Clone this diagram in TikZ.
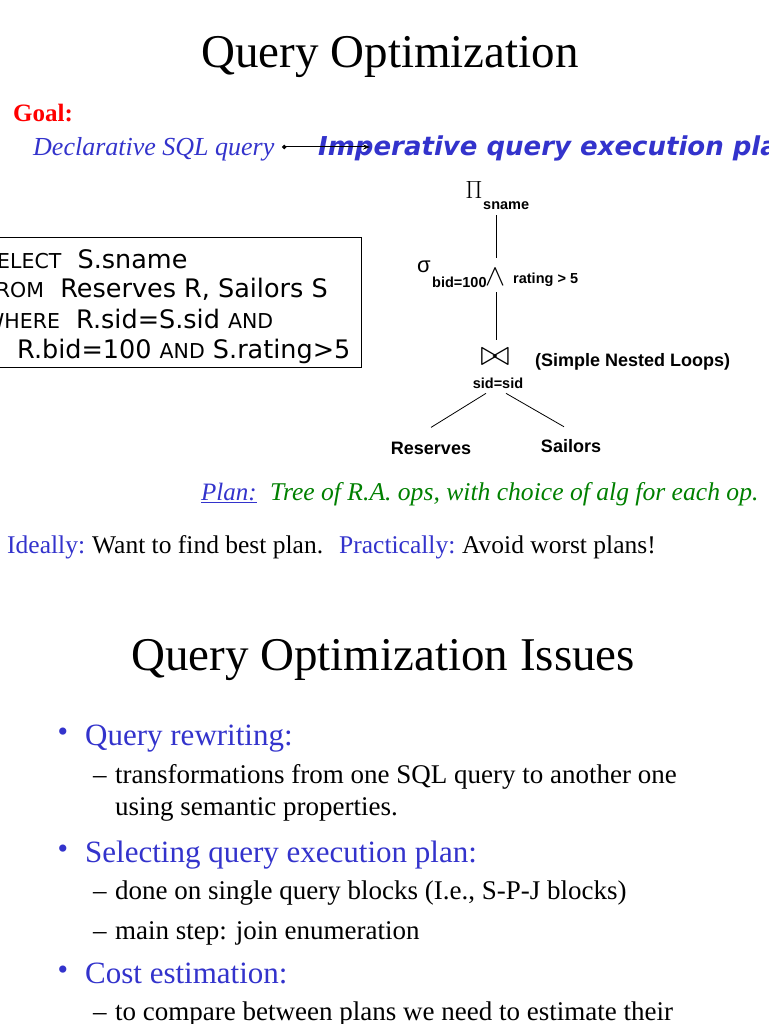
\documentclass[tikz,border=0pt]{standalone}
\usepackage{fontspec}
\usepackage{graphicx}
\setmainfont{Liberation Serif}
\newfontfamily\dejavu{DejaVu Sans}
\newfontfamily\arialfont{Liberation Sans}
\usetikzlibrary{arrows.meta}
\definecolor{slideblue}{RGB}{51,51,204}
\definecolor{plangreen}{RGB}{0,128,0}
\newcommand{\fsz}[1]{\fontsize{#1}{#1}\selectfont}
\newcommand{\kw}[1]{{\fsz{20.5}#1}}

\tikzset{
  txt/.style={anchor=base west, inner sep=0pt},
  slidetitle/.style={anchor=base, inner sep=0pt, font=\fsz{47}},
  sqlline/.style={txt, font=\dejavu\fsz{25.5}},
  treelbl/.style={inner sep=0pt, font=\arialfont\bfseries\fsz{14.5}},
  treeop/.style={inner sep=0pt, font=\fsz{20}},
  treeedge/.style={line width=0.8pt},
  relname/.style={inner sep=0pt, anchor=base, font=\arialfont\bfseries\fsz{18}},
  headitem/.style={txt, text=slideblue, font=\fsz{31}},
  subitem/.style={txt, font=\fsz{27}},
}

\begin{document}
\begin{tikzpicture}[x=1pt,y=-1pt]
\useasboundingbox (0,0) rectangle (768,1024);
\clip (0,0) rectangle (768,1024);
\fill[white] (0,0) rectangle (768,1024);

% first slide
\node[slidetitle] (title) at (390,68) {Query Optimization};
\node[txt, text=red, font=\bfseries\fsz{25}] (goal) at (13,122) {Goal:};
\node[txt, text=slideblue, font=\itshape\fsz{26}] (decl) at (33,156) {Declarative SQL query};
\node[txt, text=slideblue, font=\dejavu\bfseries\itshape\fsz{26}] (imper) at (318,156) {Imperative query execution plan};
\coordinate (goalS) at (282,147);
\coordinate (goalE) at (370,147);
\draw[line width=1pt, {Circle[length=4.5pt]}-{Stealth[length=7pt,width=5pt]}] (goalS) -- (goalE);

% the query
\draw[line width=0.8pt] (-30,237) rectangle (361,367);
\node[sqlline] (sql1) at (-16,268) {\kw{SELECT}\ \ S.sname};
\node[sqlline] (sql2) at (-16,297) {\kw{FROM}\ \ Reserves R, Sailors S};
\node[sqlline] (sql3) at (-16,328) {\kw{WHERE}\ \ R.sid=S.sid \kw{AND}};
\node[sqlline] (sql4) at (17,358) {R.bid=100 \kw{AND} S.rating>5};

% plan tree
\node[treeop, font=\fsz{27}] (proj) at (474,190) {$\Pi$};
\node[treelbl, anchor=base west] (projlbl) at (483,210) {sname};
\node[treeop, font=\arialfont\fsz{22}] (sel) at (424,267) {σ};
\node[treelbl, anchor=base west] (sellbl) at (432,287) {bid=100};
\node[treeop] (andop) at (496,277) {\scalebox{1.45}{$\wedge$}};
\node[treelbl, anchor=base west] (ratlbl) at (513,283) {rating > 5};
\node[treeop] (join) at (495,357) {\scalebox{1.75}{$\bowtie$}};
\node[treelbl, anchor=base west, font=\arialfont\bfseries\fsz{18}] (snl) at (535,366) {(Simple Nested Loops)};
\node[treelbl, anchor=base] (joinlbl) at (498,388) {sid=sid};
\node[relname] (res) at (431,454) {Reserves};
\node[relname] (sail) at (571,452) {Sailors};
\draw[treeedge] (projlbl.south -| andop.center) ++(0,5) -- ([yshift=19pt]andop.center);
\draw[treeedge] ([yshift=-15pt]andop.center) -- ([yshift=17pt]join.center -| andop.center);
\draw[treeedge] ([xshift=-12pt,yshift=-5pt]joinlbl.south) -- ([yshift=14pt]res.north);
\draw[treeedge] ([xshift=8pt,yshift=-5pt]joinlbl.south) -- ([xshift=-7pt,yshift=12pt]sail.north);

\node[txt, text=slideblue, font=\itshape\fsz{25}] (plan) at (201,500) {\underline{Plan:}};
\node[txt, text=plangreen, font=\itshape\fsz{25.6}] (plantxt) at (270,500) {Tree of R.A. ops, with choice of alg for each op.};
\node[txt, text=slideblue, font=\fsz{25.5}] (ideal) at (7,553) {Ideally:};
\node[txt, font=\fsz{25.5}] (idealtxt) at (92,553) {Want to find best plan.};
\node[txt, text=slideblue, font=\fsz{25.5}] (pract) at (339,553) {Practically:};
\node[txt, font=\fsz{25.5}] (practtxt) at (462,553) {Avoid worst plans!};

% second slide
\node[slidetitle] (title2) at (383,670) {Query Optimization Issues};
\foreach \y/\nm in {735/b1, 852/b2, 973/b3}
  \node[text=slideblue, inner sep=0pt, font=\fsz{30}] (\nm) at (63,\y) {•};
\node[headitem] (rewrite) at (85,745) {Query rewriting:};
\node[subitem] (rw1) at (93,783) {–};
\node[subitem] (rw1t) at (115,783) {transformations from one SQL query to another one};
\node[subitem] (rw2t) at (115,815) {using semantic properties.};
\node[headitem] (select) at (85,862) {Selecting query execution plan:};
\node[subitem] (se1) at (93,899) {–};
\node[subitem] (se1t) at (115,899) {done on single query blocks (I.e., S-P-J blocks)};
\node[subitem] (se2) at (93,939) {–};
\node[subitem] (se2t) at (115,939) {main step: join enumeration};
\node[headitem] (cost) at (85,983) {Cost estimation:};
\node[subitem] (co1) at (93,1020) {–};
\node[subitem] (co1t) at (115,1020) {to compare between plans we need to estimate their};
\end{tikzpicture}
\end{document}
